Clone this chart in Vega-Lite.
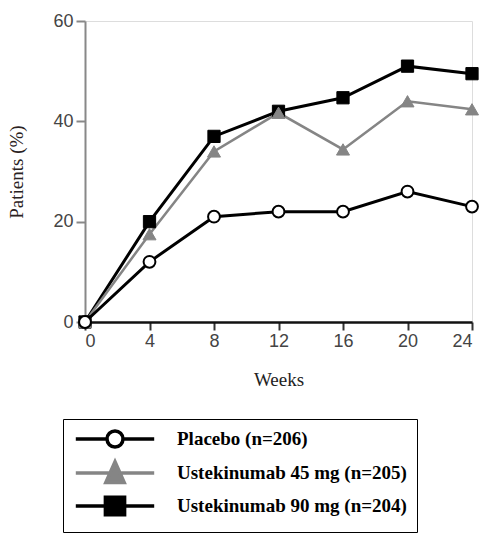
{
  "$schema": "https://vega.github.io/schema/vega-lite/v6.json",
  "width": 387,
  "height": 301,
  "autosize": {"type": "none"},
  "padding": {"left": 85, "top": 21, "right": 28, "bottom": 222},
  "background": "white",
  "data": {
    "values": [
      {"week": 0, "pct": 0, "group": "Ustekinumab 90 mg (n=204)"},
      {"week": 4, "pct": 20, "group": "Ustekinumab 90 mg (n=204)"},
      {"week": 8, "pct": 37, "group": "Ustekinumab 90 mg (n=204)"},
      {"week": 12, "pct": 42, "group": "Ustekinumab 90 mg (n=204)"},
      {"week": 16, "pct": 44.7, "group": "Ustekinumab 90 mg (n=204)"},
      {"week": 20, "pct": 51, "group": "Ustekinumab 90 mg (n=204)"},
      {"week": 24, "pct": 49.5, "group": "Ustekinumab 90 mg (n=204)"},
      {"week": 0, "pct": 0, "group": "Ustekinumab 45 mg (n=205)"},
      {"week": 4, "pct": 17.5, "group": "Ustekinumab 45 mg (n=205)"},
      {"week": 8, "pct": 34, "group": "Ustekinumab 45 mg (n=205)"},
      {"week": 12, "pct": 41.7, "group": "Ustekinumab 45 mg (n=205)"},
      {"week": 16, "pct": 34.4, "group": "Ustekinumab 45 mg (n=205)"},
      {"week": 20, "pct": 44, "group": "Ustekinumab 45 mg (n=205)"},
      {"week": 24, "pct": 42.4, "group": "Ustekinumab 45 mg (n=205)"},
      {"week": 0, "pct": 0, "group": "Placebo (n=206)"},
      {"week": 4, "pct": 12, "group": "Placebo (n=206)"},
      {"week": 8, "pct": 21, "group": "Placebo (n=206)"},
      {"week": 12, "pct": 22, "group": "Placebo (n=206)"},
      {"week": 16, "pct": 22, "group": "Placebo (n=206)"},
      {"week": 20, "pct": 26, "group": "Placebo (n=206)"},
      {"week": 24, "pct": 23, "group": "Placebo (n=206)"}
    ]
  },
  "encoding": {
    "x": {
      "field": "week", "type": "quantitative",
      "scale": {"domain": [0, 24], "nice": false, "zero": false},
      "axis": {
        "title": "Weeks", "values": [0, 4, 8, 12, 16, 20, 24], "grid": false,
        "domainColor": "#111", "domainWidth": 2.5, "tickColor": "#333", "tickWidth": 2, "tickSize": 8,
        "labelFont": "Liberation Sans", "labelFontSize": 18, "labelColor": "#444", "labelPadding": 2,
        "titleFont": "Liberation Serif", "titleFontSize": 19, "titleFontWeight": "normal", "titleColor": "#222", "titlePadding": 20
      }
    },
    "y": {
      "field": "pct", "type": "quantitative",
      "scale": {"domain": [0, 60], "nice": false},
      "axis": {
        "title": "Patients (%)", "values": [0, 20, 40, 60], "grid": false,
        "domainColor": "#888", "domainWidth": 2, "tickColor": "#888", "tickWidth": 2, "tickSize": 9,
        "labelFont": "Liberation Sans", "labelFontSize": 18, "labelColor": "#444", "labelPadding": 3,
        "titleFont": "Liberation Serif", "titleFontSize": 19, "titleFontWeight": "normal", "titleColor": "#2a2222", "titlePadding": 26
      }
    }
  },
  "layer": [
    {
      "transform": [{"filter": "datum.group == 'Ustekinumab 90 mg (n=204)'"}],
      "mark": {"type": "line", "strokeWidth": 3, "stroke": "#000000"}
    },
    {
      "transform": [{"filter": "datum.group == 'Ustekinumab 45 mg (n=205)'"}],
      "mark": {"type": "line", "strokeWidth": 2.5, "stroke": "#858585"}
    },
    {
      "transform": [{"filter": "datum.group == 'Placebo (n=206)'"}],
      "mark": {"type": "line", "strokeWidth": 3, "stroke": "#000000"}
    },
    {
      "transform": [{"filter": "datum.group == 'Ustekinumab 90 mg (n=204)'"}],
      "mark": {"type": "point", "shape": "square", "filled": true, "fill": "#000000", "stroke": "#000000", "strokeWidth": 1, "size": 150, "opacity": 1}
    },
    {
      "transform": [{"filter": "datum.group == 'Ustekinumab 45 mg (n=205)'"}],
      "mark": {"type": "point", "shape": "triangle-up", "filled": true, "fill": "#858585", "stroke": "#858585", "strokeWidth": 1, "size": 170, "opacity": 1}
    },
    {
      "transform": [{"filter": "datum.group == 'Placebo (n=206)'"}],
      "mark": {"type": "point", "shape": "circle", "filled": true, "fill": "#ffffff", "stroke": "#000000", "strokeWidth": 2, "size": 140, "opacity": 1}
    },
    {
      "transform": [{"filter": "datum.week == 0"}],
      "mark": {"type": "point", "filled": true, "opacity": 0},
      "encoding": {
        "shape": {
          "field": "group", "type": "nominal",
          "scale": {
            "domain": ["Placebo (n=206)", "Ustekinumab 45 mg (n=205)", "Ustekinumab 90 mg (n=204)"],
            "range": ["M-4.9,0H-1M1,0H4.9M-1,0A1,1,0,1,1,1,0A1,1,0,1,1,-1,0Z", "M-4.9,0H4.9M0,-1.4L1.15,1.2L-1.15,1.2Z", "M-4.9,0H4.9M-1.2,-1.1H1.2V1.1H-1.2Z"]
          },
          "legend": {
            "title": null, "orient": "none", "legendX": -22, "legendY": 398, "direction": "vertical",
            "padding": 10, "strokeColor": "#000", "fillColor": "white",
            "symbolSize": 256, "symbolOffset": 32, "labelOffset": 52, "rowPadding": 0,
            "symbolStrokeWidth": 3.5, "symbolOpacity": 1,
            "labelFont": "Liberation Serif", "labelFontSize": 19, "labelFontWeight": "bold", "labelColor": "#000",
            "labelLimit": 400
          }
        },
        "fill": {
          "field": "group", "type": "nominal",
          "scale": {"domain": ["Placebo (n=206)", "Ustekinumab 45 mg (n=205)", "Ustekinumab 90 mg (n=204)"], "range": ["#ffffff", "#858585", "#000000"]},
          "legend": {
            "title": null, "orient": "none", "legendX": -22, "legendY": 398, "direction": "vertical",
            "padding": 10, "strokeColor": "#000", "fillColor": "white",
            "symbolSize": 256, "symbolOffset": 32, "labelOffset": 52, "rowPadding": 0,
            "symbolStrokeWidth": 3.5, "symbolOpacity": 1,
            "labelFont": "Liberation Serif", "labelFontSize": 19, "labelFontWeight": "bold", "labelColor": "#000",
            "labelLimit": 400
          }
        },
        "stroke": {
          "field": "group", "type": "nominal",
          "scale": {"domain": ["Placebo (n=206)", "Ustekinumab 45 mg (n=205)", "Ustekinumab 90 mg (n=204)"], "range": ["#000000", "#858585", "#000000"]},
          "legend": {
            "title": null, "orient": "none", "legendX": -22, "legendY": 398, "direction": "vertical",
            "padding": 10, "strokeColor": "#000", "fillColor": "white",
            "symbolSize": 256, "symbolOffset": 32, "labelOffset": 52, "rowPadding": 0,
            "symbolStrokeWidth": 3.5, "symbolOpacity": 1,
            "labelFont": "Liberation Serif", "labelFontSize": 19, "labelFontWeight": "bold", "labelColor": "#000",
            "labelLimit": 400
          }
        }
      }
    }
  ]
}
